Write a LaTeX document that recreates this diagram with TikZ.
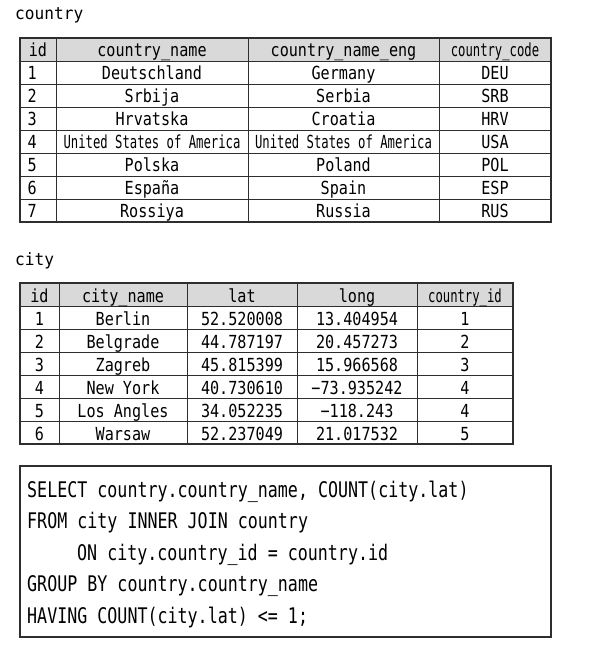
\documentclass[tikz,border=0pt]{standalone}
\usepackage{fontspec}
\newfontfamily\tabfont[FakeStretch=0.84]{DejaVu Sans Mono}
\newfontfamily\tightfont[FakeStretch=0.68]{DejaVu Sans Mono}
\newfontfamily\titlefont[FakeStretch=0.95]{DejaVu Sans Mono}
\newfontfamily\sqlfont[FakeStretch=0.775]{DejaVu Sans Mono}
\usepackage{xcolor}
\definecolor{headGray}{HTML}{D9D9D9}
\definecolor{lineGray}{HTML}{2E2E2E}
\usepackage{tikz}
\usetikzlibrary{positioning}
\tikzstyle{outline}=[line width=1.5pt, lineGray]
\tikzstyle{gridline}=[line width=0.9pt, lineGray]
\tikzstyle{cell}=[anchor=base, inner sep=0pt, font=\tabfont\fontsize{18}{20}\selectfont]
\tikzstyle{title}=[anchor=base west, inner sep=0pt, font=\titlefont\fontsize{17}{20}\selectfont]
\tikzstyle{sql}=[anchor=base west, inner sep=0pt, font=\sqlfont\fontsize{21.5}{24}\selectfont]

\begin{document}
\begin{tikzpicture}[x=1pt, y=-1pt]
  \useasboundingbox (0,0) rectangle (594,646);

  % 表の名前
  \node[title] (ctryTitle) at (15,19.5) {country};
  \node[title] (cityTitle) at (15,265) {city};

  % country表の枠
  \fill[headGray] (20,38) rectangle (551,61);
  \foreach \y in {61,84,...,199} \draw[gridline] (20,\y) -- (551,\y);
  \foreach \x in {56,248,439} \draw[gridline] (\x,38) -- (\x,222);
  \draw[outline] (20,38) rectangle (551,222);

  % country表の見出し
  \node[cell] (ctry-0-id) at (38,56) {id};
  \node[cell] (ctry-0-name) at (152,56) {country\_name};
  \node[cell] (ctry-0-eng) at (343.5,56) {country\_name\_eng};
  \node[cell] (ctry-0-code) at (495,56) {\tightfont country\_code};

  % country表の中身
  \foreach \id/\name/\eng/\code [count=\r] in {
      1/Deutschland/Germany/DEU,
      2/Srbija/Serbia/SRB,
      3/Hrvatska/Croatia/HRV,
      4/{\tightfont United States of America}/{\tightfont United States of America}/USA,
      5/Polska/Poland/POL,
      6/España/Spain/ESP,
      7/Rossiya/Russia/RUS}{
    \pgfmathsetmacro\yb{56.5+23*\r}
    \node[cell, anchor=base west] (ctry-\r-id) at (27.5,\yb) {\id};
    \node[cell] (ctry-\r-name) at (152,\yb) {\name};
    \node[cell] (ctry-\r-eng) at (343.5,\yb) {\eng};
    \node[cell] (ctry-\r-code) at (495,\yb) {\code};
  }

  % city表の枠
  \fill[headGray] (20,283) rectangle (513,306);
  \foreach \y in {306,329,...,421} \draw[gridline] (20,\y) -- (513,\y);
  \foreach \x in {59,187,297,417} \draw[gridline] (\x,283) -- (\x,444);
  \draw[outline] (20,283) rectangle (513,444);

  % city表の見出し
  \node[cell] (city-0-id) at (39.5,302) {id};
  \node[cell] (city-0-name) at (123,302) {city\_name};
  \node[cell] (city-0-lat) at (242,302) {lat};
  \node[cell] (city-0-long) at (357,302) {long};
  \node[cell] (city-0-cid) at (465,302) {\tightfont country\_id};

  % city表の中身
  \foreach \id/\name/\lat/\long/\cid [count=\r] in {
      1/Berlin/52.520008/13.404954/1,
      2/Belgrade/44.787197/20.457273/2,
      3/Zagreb/45.815399/15.966568/3,
      4/New York/40.730610/−73.935242/4,
      5/Los Angles/34.052235/−118.243/4,
      6/Warsaw/52.237049/21.017532/5}{
    \pgfmathsetmacro\yb{302+23*\r}
    \node[cell] (city-\r-id) at (39.5,\yb) {\id};
    \node[cell] (city-\r-name) at (123,\yb) {\name};
    \node[cell] (city-\r-lat) at (242,\yb) {\lat};
    \node[cell] (city-\r-long) at (357,\yb) {\long};
    \node[cell] (city-\r-cid) at (465,\yb) {\cid};
  }

  % SQL文の枠
  \draw[outline] (20,466) rectangle (551,637);

  % SQL文
  \node[sql] (sql1) at (27,497) {SELECT country.country\_name, COUNT(city.lat)};
  \node[sql] (sql2) at (27,528.5) {FROM city INNER JOIN country};
  \node[sql] (sql3) at (77,560) {ON city.country\_id = country.id};
  \node[sql] (sql4) at (27,591.5) {GROUP BY country.country\_name};
  \node[sql] (sql5) at (27,623) {HAVING COUNT(city.lat) <= 1;};
\end{tikzpicture}
\end{document}
